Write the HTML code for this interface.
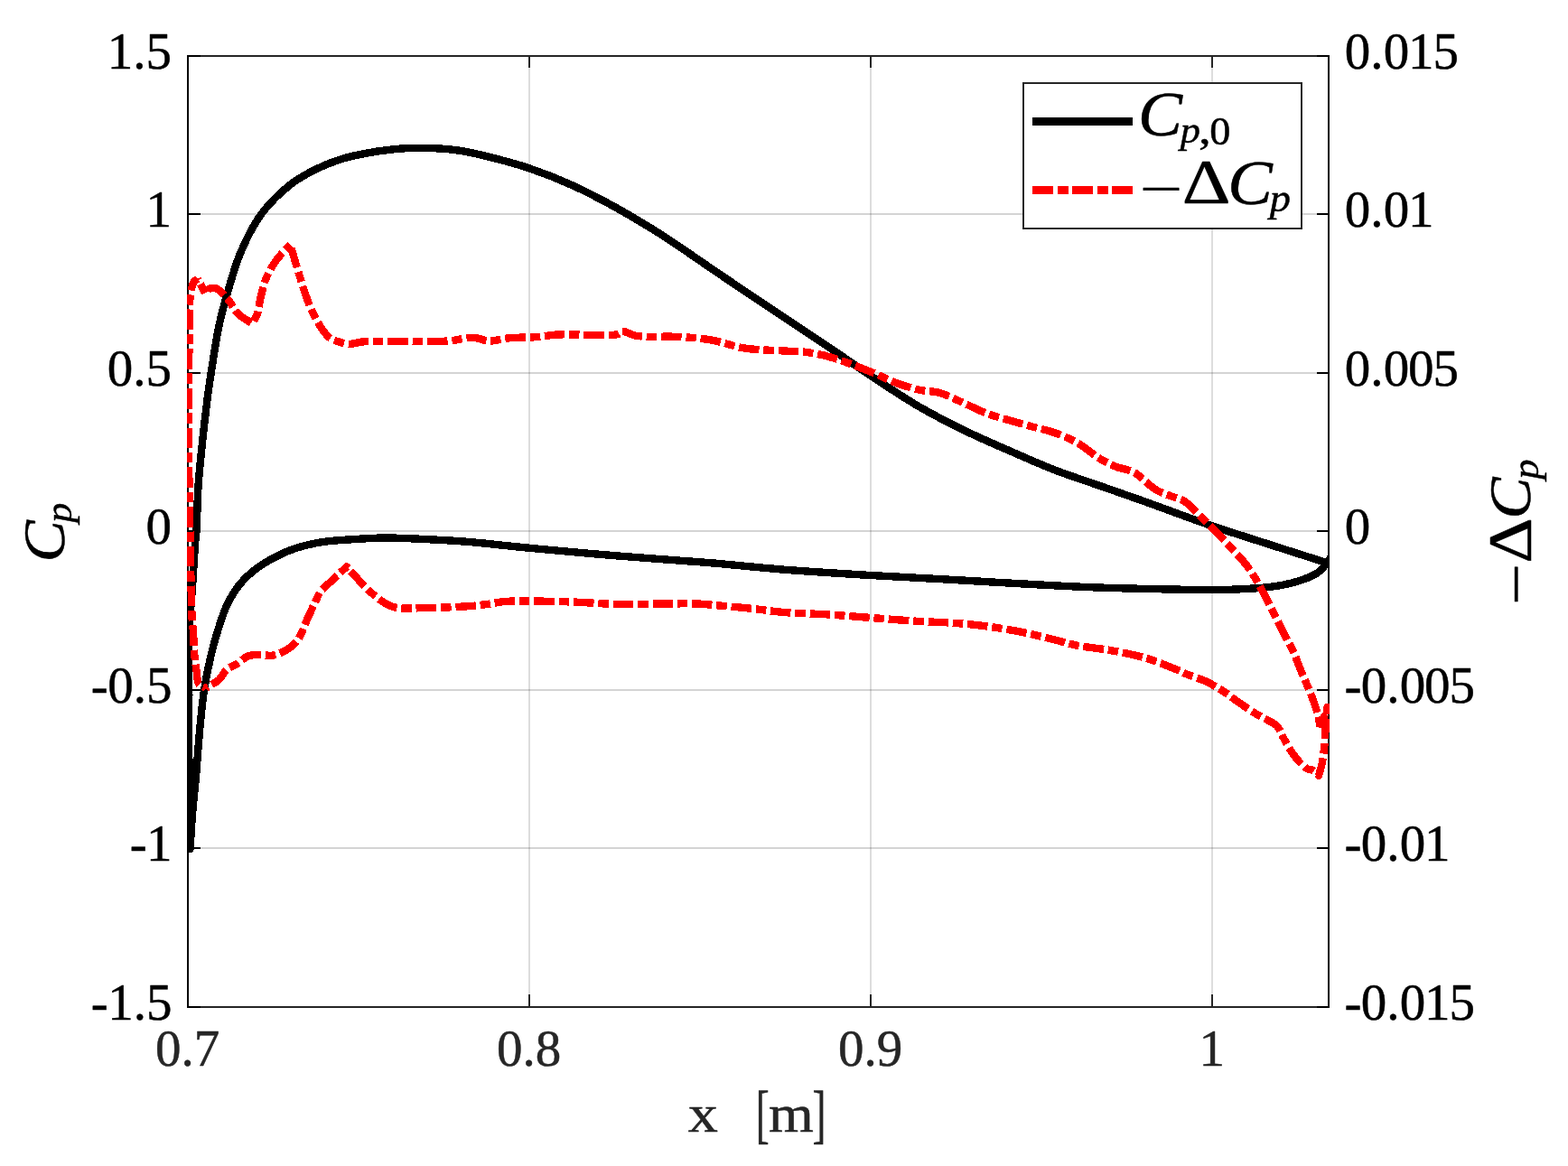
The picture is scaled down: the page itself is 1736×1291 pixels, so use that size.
<!DOCTYPE html>
<html lang="en">
<head>
<meta charset="utf-8">
<title>Cp distribution</title>
<style>
html,body{margin:0;padding:0;background:#fff}
body{width:1736px;height:1291px}
svg{display:block;font-family:"Liberation Serif","DejaVu Serif",serif}
</style>
</head>
<body>
<svg width="1736" height="1291" viewBox="0 0 1736 1291">
<rect width="1736" height="1291" fill="#fff"/>
<defs><clipPath id="ax"><rect x="207" y="61" width="1265" height="1055"/></clipPath></defs>
<g shape-rendering="crispEdges" stroke-width="2" fill="none">
<path stroke="#262626" stroke-opacity="0.155" d="M586 62V1115M964 62V1115M1342 62V1115"/>
<path stroke="#262626" stroke-opacity="0.2" d="M208 237H1471M208 413H1471M208 588H1471M208 764H1471M208 939H1471"/>
<path stroke="#262626" d="M207 1115H1472M207 62H1472M208 1115V1101M586 1115V1101M964 1115V1101M1342 1115V1101M208 62V75M586 62V75M964 62V75M1342 62V75"/>
<path stroke="#000" d="M208 61V1116M1471 61V1116M208 62H222M208 237H222M208 413H222M208 588H222M208 764H222M208 939H222M208 1115H222M1471 62H1458M1471 237H1458M1471 413H1458M1471 588H1458M1471 764H1458M1471 939H1458M1471 1115H1458"/>
</g>
<g clip-path="url(#ax)" fill="none" stroke-width="8.4" stroke-linejoin="round" shape-rendering="crispEdges">
<path stroke="#000" d="M1470.5 623.6C1467.42 622.63 1465.63 622.09 1461.25 620.7C1450.43 617.27 1424.24 608.89 1405 602.7C1384.71 596.17 1361.04 588.81 1342.5 582.5C1327.5 577.39 1314.9 572.68 1302 568C1290.16 563.7 1280.44 559.96 1268 555.5C1252.95 550.1 1234.67 543.83 1218 538C1201.33 532.17 1184.56 526.91 1168 520.5C1151.23 514.01 1134.63 506.52 1118 499.25C1101.29 491.94 1084.55 484.81 1068 476.75C1051.21 468.57 1034.76 460.22 1018 450.5C1000.19 440.17 981.41 427.53 964.25 416.2C948.17 405.58 933.75 395.21 918 384.6C901.69 373.62 883.88 361.98 868 351.4C853.52 341.76 840.4 333.05 826.5 323.7C812.4 314.22 798.74 304.89 784 294.9C768.01 284.06 750.82 271.73 734 261C717.48 250.45 700.82 240.36 684 231C667.48 221.81 650.71 212.87 634 205.3C617.95 198.03 601.13 191.47 585.75 186.25C572.11 181.61 559.49 178.29 546.5 175C533.91 171.81 521.96 168.62 509 166.75C495.35 164.78 479.72 163.86 466.5 163.75C454.94 163.65 444.93 164.37 434 165.5C422.77 166.66 410.42 168.58 400 170.7C390.98 172.54 383.24 174.38 375 177.1C366.57 179.88 358.38 183.14 350 187.3C340.89 191.83 331.63 196.49 322.5 203.6C311.45 212.21 298.81 224.25 289.5 236.8C279.97 249.65 272.72 264.76 266.25 280C259.56 295.77 254.51 315.33 250.3 330C247.04 341.36 244.95 348.93 242.5 360.5C239.33 375.48 236.03 397.89 233.75 412.5C232.1 423.1 231.17 429.46 229.8 440C227.96 454.18 225.73 473.32 224 490C222.27 506.66 220.49 523.49 219.4 540C218.34 556.15 218.27 577.34 217.5 588C217.12 593.34 216.7 594.62 216.25 600C215.32 610.95 214.12 633.33 213 650C211.87 666.67 210.16 681.92 209.5 700C208.72 721.36 209.33 746.67 209.3 770C209.27 793.33 209.15 814.59 209.3 840C209.48 870.37 210.1 906.67 210.5 940C211.37 926.67 212.02 913.24 213.1 900C214.16 886.91 215.9 872.37 216.9 861C217.68 852.18 218.04 846.24 218.75 837.5C219.65 826.45 220.65 812.49 221.9 800C223.15 787.49 224.28 774.96 226.25 762.5C228.23 749.96 231.1 736.2 233.75 725C235.93 715.78 237.88 708.66 240.6 700C243.61 690.4 246.92 679.08 251.25 670C255.19 661.74 259.89 653.98 265 647.5C269.58 641.68 274.48 637.03 280 632.5C285.69 627.83 291.89 623.86 298.75 620C306.34 615.73 314.79 611.5 323.75 608.3C333.43 604.85 343.73 602.29 355 600.4C367.89 598.23 384.41 597.63 397 596.8C407.27 596.12 414.56 595.57 425 595.5C438.23 595.41 454.84 596.3 470 597C485.5 597.72 499.86 598.42 517 599.8C537.76 601.47 560.79 604.38 585.75 606.75C615.58 609.59 651.1 612.8 684 615.5C717.18 618.22 752.13 620.34 784 623C813.23 625.44 839.05 628.42 868 630.7C898.92 633.13 932.6 635.12 964 637C994.22 638.81 1024.41 640.19 1053 641.8C1079.6 643.29 1104.33 644.9 1130 646.3C1155.66 647.7 1181.67 649.21 1207 650.2C1231.65 651.16 1256.61 651.71 1280 652.2C1301.64 652.65 1326.36 653.15 1342.5 653.1C1352.71 653.07 1358.33 653.01 1367.5 652.6C1378.74 652.1 1393.8 651.39 1405 650C1414.21 648.86 1421.76 647.71 1430 645.5C1438.43 643.24 1449.25 639.56 1455 636.5C1458.4 634.69 1460.3 633.05 1462.5 631C1464.61 629.04 1466.25 626.74 1468 624.5C1469.75 622.24 1471.33 619.83 1473 617.5"/>
<path stroke="#f00" stroke-dasharray="22.6 4.8 11.5 4.8" stroke-dashoffset="35.15" d="M228 762C225.33 760.33 221.74 759.59 220 757C217.93 753.9 218.47 748.56 217.75 743.75C216.89 738.05 215.91 731.71 215.3 725C214.6 717.28 214.51 706.9 214 700C213.64 695.11 213.16 693.43 212.8 687.5C211.91 672.95 211.39 639.64 210.8 612C210.08 578.34 209.24 536.28 209 500C208.78 465.72 209.1 429.76 209.3 400C209.47 376.01 209.03 348.55 210 335C210.45 328.8 210.94 325.54 211.8 321.5C212.52 318.11 213.06 314.54 214.5 312.3C215.61 310.58 217.37 309.83 218.8 308.6"/>
<path stroke="#f00" stroke-dasharray="22.6 4.8 11.5 4.8" stroke-dashoffset="20.92" d="M218.8 308.6C220.43 311.73 222.13 315.05 223.7 318C225.11 320.65 226.43 323 227.8 325.5C229.03 323.67 229.73 321.05 231.5 320C233.39 318.88 236.39 318.46 239 319.3C242.84 320.54 247.38 325.73 251.25 330C255.7 334.91 258.99 342.79 263.75 347.5C268.05 351.75 273.32 354.17 278.1 357.5"/>
<path stroke="#f00" stroke-dasharray="22.6 4.8 11.5 4.8" stroke-dashoffset="23.6" d="M278.1 357.5C279.98 355.2 282.19 353.79 283.75 350.6C286.23 345.55 286.94 335.85 288.75 328.75C290.5 321.91 291.76 315.22 294.4 308.75C297.13 302.09 300.7 295.58 305 289.4C309.57 282.83 315.87 276.87 321.3 270.6"/>
<path stroke="#f00" stroke-dasharray="22.6 4.8 11.5 4.8" stroke-dashoffset="39.28" d="M321.3 270.6C322.63 275.23 323.84 279.57 325.3 284.5C326.97 290.12 328.78 296.01 330.8 302.5C333.19 310.16 335.92 319.68 338.75 327.5C341.32 334.59 343.65 340.95 346.9 347.5C350.27 354.29 354.95 362.6 358.75 367.5C361.32 370.81 363.34 373.13 366.25 375C369.17 376.88 372.88 377.74 376.25 378.75C379.55 379.73 382.44 380.89 386.25 381C391.26 381.14 397.61 378.61 403.75 378.1C410.47 377.55 419.42 378.19 425 378.1C428.64 378.04 429.65 377.88 434 377.8C445.46 377.58 479.91 378.67 496.5 377.5C507.55 376.72 515.89 373.44 524 373.75C530.51 374 535.28 377.29 541.5 377.5C548.51 377.74 555.79 375 564 374.25C573.82 373.35 586.99 373.78 596.5 373C603.99 372.39 607.84 371.07 616.5 370.5C632.34 369.45 674.52 372.85 684 370C686.82 369.15 686.8 367.03 689 366.75C692.58 366.29 697.43 370.6 704 371.75C715.69 373.8 738.83 372 754 373C766.72 373.84 777.4 374.69 789 376.75C800.74 378.84 811.57 383.54 824 385.5C837.74 387.67 855.39 387.69 868 388.5C877.5 389.11 884.7 388.93 893 390C901.37 391.08 908.51 392.35 918 395C931.18 398.68 950.73 406.37 964.25 411.75C975.04 416.05 983.65 420.83 993 424.25C1001.53 427.37 1009.82 429.94 1018 431.75C1025.63 433.44 1032.77 432.83 1040.5 435C1049.37 437.49 1059.07 442.83 1068 446.75C1076.55 450.5 1084.56 454.85 1093 458C1101.23 461.07 1109.66 463.08 1118 465.5C1126.32 467.91 1134.66 470.21 1143 472.5C1151.33 474.79 1159.78 476.31 1168 479.25C1176.46 482.27 1184.88 485.88 1193 490.5C1201.57 495.37 1210.25 503.38 1218 508C1224.21 511.7 1229.37 514.28 1235.5 516.75C1241.85 519.31 1248.83 519.46 1255.5 523C1263.66 527.33 1272.55 538.1 1280 542.5C1285.37 545.67 1289.89 546.7 1295 548.75C1300.29 550.87 1306.43 552.04 1311.25 555C1315.99 557.91 1319.63 562.34 1323.75 566.25C1327.97 570.25 1331.98 574.48 1336.25 578.75C1340.72 583.22 1345.37 587.68 1350 592.5C1354.94 597.64 1360.24 603.55 1365 608.75C1369.37 613.52 1373.59 617.59 1377.5 622.5C1381.53 627.57 1385.22 633.15 1388.75 638.75C1392.31 644.4 1395.41 650 1398.75 656.25C1402.49 663.23 1406.24 671.28 1410 678.75C1413.74 686.19 1417.58 693.89 1421.25 701C1424.65 707.6 1428.3 713.61 1431.25 720C1434.11 726.2 1436.21 732.62 1438.75 738.75C1441.21 744.7 1443.79 750.3 1446.25 756.25C1448.79 762.38 1451.58 769.07 1453.75 775C1455.67 780.25 1457.38 784.88 1458.75 790C1460.14 795.21 1460.92 800.67 1462 806"/>
<path stroke="#f00" stroke-dasharray="22.6 4.8 11.5 4.8" stroke-dashoffset="6.7" d="M1462 806C1464.5 798.33 1467 790.67 1469.5 783C1469.25 784.92 1468.99 786.28 1468.75 788.75C1468.31 793.2 1467.92 801.25 1467.5 807.5C1467.08 813.75 1466.87 820.01 1466.25 826.25C1465.62 832.51 1464.91 839.27 1463.75 845C1462.74 849.97 1461.25 854.17 1460 858.75C1457.92 856.83 1455.99 854.25 1453.75 853C1451.79 851.91 1449.63 852.39 1447.5 851.25C1444.66 849.73 1441.53 846.66 1438.75 843.75C1435.66 840.51 1432.79 836.62 1430 832.5C1426.92 827.95 1424.02 822.41 1421.25 817.5C1418.62 812.84 1416.97 807.16 1413.75 803.75C1410.96 800.79 1407.38 799.62 1403.75 797.5C1399.56 795.05 1394.87 792.94 1390 790C1384.16 786.47 1377.36 781.72 1371.25 777.5C1365.28 773.38 1359.79 768.85 1353.75 765C1347.71 761.15 1341.47 757.42 1335 754.4C1328.55 751.39 1320.95 749.34 1315 746.9C1310.1 744.89 1307.22 743.23 1301.75 741C1293.13 737.49 1279.67 731.93 1268 728.5C1255.95 724.96 1243.04 722.55 1230.5 720.25C1218.04 717.97 1204.19 716.96 1193 714.75C1183.77 712.92 1177.18 710.72 1168 708.5C1156.77 705.79 1143.04 702.26 1130.5 699.75C1118.04 697.26 1105.53 695.17 1093 693.5C1080.53 691.84 1068.01 690.67 1055.5 689.75C1043.01 688.83 1031.62 688.82 1018 688C1001.69 687.01 981.49 685.29 964.25 684C948.25 682.8 933.72 681.49 918 680.5C901.66 679.47 883.05 679.26 868 678C855.56 676.96 845.62 675.23 834 674C821.81 672.71 807.74 671.47 796.5 670.5C787.33 669.71 780.68 668.87 771.5 668.5C760.27 668.05 747.4 668.43 734 668.5C718.53 668.58 700.66 669.33 684 669C667.33 668.67 650.52 667.08 634 666.5C617.78 665.93 599.48 665.51 585.75 665.5C575.53 665.49 567.25 665.31 559 666C551.83 666.6 545.45 668.15 539 669C532.98 669.8 528.84 670.43 521.5 671C509.12 671.95 486.86 672.92 471.5 673C458.38 673.06 445.34 675.09 435 671.9C426.16 669.17 420.08 663.73 412.5 657.5C403.04 649.73 393.33 637.5 383.75 627.5C378.83 632.1 373.9 636.71 369 641.3C364.12 645.87 359.27 650.43 354.4 655C350.1 664.17 345.78 673.33 341.5 682.5C337.23 691.66 333.86 703.49 328.75 710C325.04 714.73 320.72 717.38 316.25 720C311.95 722.53 307.28 724.76 302.5 725.6C297.7 726.44 292.27 724.86 287.5 725C283.14 725.13 278.98 724.77 275 726.25C270.61 727.88 266.62 732.42 262.5 735C258.71 737.37 254.52 738.45 251.25 741.25C247.81 744.2 246.11 749.17 242.5 752.5C238.51 756.17 232.83 758.83 228 762"/>
</g>
<rect x="1133" y="92" width="308" height="161" fill="#fff" stroke="#262626" stroke-width="2" shape-rendering="crispEdges"/>
<path stroke="#000" stroke-width="9" shape-rendering="crispEdges" d="M1143 134.5H1254"/>
<path stroke="#f00" stroke-width="9" shape-rendering="crispEdges" stroke-dasharray="23 4.5 12 4.5" d="M1143 210.5H1254"/>
<g stroke="#000" stroke-width="0.5" stroke-linejoin="round">
<text transform="translate(190.55 75.9)" font-size="57" text-anchor="end" dx="-0.55 0.02 0.02">1.5</text>
<text transform="translate(190.55 250.9)" font-size="57" text-anchor="end" dx="-0.55">1</text>
<text transform="translate(190.55 426.9)" font-size="57" text-anchor="end" dx="-0.55 0.02 0.02">0.5</text>
<text transform="translate(190.55 601.9)" font-size="57" text-anchor="end" dx="-0.55">0</text>
<text transform="translate(190.55 777.9)" font-size="57" text-anchor="end" dx="-0.09 -0.64 0.02 0.02">-0.5</text>
<text transform="translate(190.55 952.9)" font-size="57" text-anchor="end" dx="-0.09 -0.64">-1</text>
<text transform="translate(190.55 1128.9)" font-size="57" text-anchor="end" dx="-0.09 -0.64 0.02 0.02">-1.5</text>
<text transform="translate(1489.4 75.9)" font-size="57" dx="-0.55 0.02 0.02 -1.1 -1.1">0.015</text>
<text transform="translate(1489.4 250.9)" font-size="57" dx="-0.55 0.02 0.02 -1.1">0.01</text>
<text transform="translate(1489.4 426.9)" font-size="57" dx="-0.55 0.02 0.02 -1.1 -1.1">0.005</text>
<text transform="translate(1489.4 601.9)" font-size="57" dx="-0.55">0</text>
<text transform="translate(1488.6 777.9)" font-size="57" dx="-0.09 -0.64 0.02 0.02 -1.1 -1.1">-0.005</text>
<text transform="translate(1488.6 952.9)" font-size="57" dx="-0.09 -0.64 0.02 0.02 -1.1">-0.01</text>
<text transform="translate(1488.6 1128.9)" font-size="57" dx="-0.09 -0.64 0.02 0.02 -1.1 -1.1">-0.015</text>
<text transform="translate(208.28 1180.4)" font-size="57" text-anchor="middle" dx="-0.55 0.02 0.02" fill="#262626" stroke="#262626">0.7</text>
<text transform="translate(586.27 1180.4)" font-size="57" text-anchor="middle" dx="-0.55 0.02 0.02" fill="#262626" stroke="#262626">0.8</text>
<text transform="translate(964.27 1180.4)" font-size="57" text-anchor="middle" dx="-0.55 0.02 0.02" fill="#262626" stroke="#262626">0.9</text>
<text transform="translate(1342.28 1180.4)" font-size="57" text-anchor="middle" dx="-0.55" fill="#262626" stroke="#262626">1</text>
<text transform="translate(761.67 1253.1)" fill="#262626" stroke="#262626"><tspan x="0" y="0" font-size="59.04" textLength="33.14" lengthAdjust="spacingAndGlyphs">x</tspan><tspan> </tspan><tspan x="75" y="4.33" font-size="72.31" textLength="14.96" lengthAdjust="spacingAndGlyphs">[</tspan><tspan x="89.24" y="0" font-size="58.79" textLength="49.85" lengthAdjust="spacingAndGlyphs">m</tspan><tspan x="137.71" y="4.33" font-size="72.31" textLength="14.96" lengthAdjust="spacingAndGlyphs">]</tspan></text>
<text transform="translate(70.64 622.62) rotate(-90)"><tspan x="0" y="0" font-size="66.06" font-style="italic" textLength="46.38" lengthAdjust="spacingAndGlyphs">C</tspan><tspan x="43.96" y="8.03" font-size="39.62" font-style="italic" textLength="22.1" lengthAdjust="spacingAndGlyphs">p</tspan></text>
<text transform="translate(1700.03 669.98) rotate(-90)"><tspan x="0" y="0" font-size="64.25" textLength="46.18" lengthAdjust="spacingAndGlyphs">−</tspan><tspan x="46.18" y="-5.83" font-size="67.26" textLength="50.55" lengthAdjust="spacingAndGlyphs">Δ</tspan><tspan x="95.54" y="-5.55" font-size="66.43" font-style="italic" textLength="46" lengthAdjust="spacingAndGlyphs">C</tspan><tspan x="139.2" y="2.91" font-size="40.2" font-style="italic" textLength="22.33" lengthAdjust="spacingAndGlyphs">p</tspan></text>
<text transform="translate(1259.91 150.26)"><tspan x="0" y="0" font-size="69.11" font-style="italic" textLength="49.01" lengthAdjust="spacingAndGlyphs">C</tspan><tspan x="46.8" y="8.09" font-size="41.59" font-style="italic" textLength="22.24" lengthAdjust="spacingAndGlyphs">p</tspan><tspan x="67.19" y="8.87" font-size="45.94" textLength="13.77" lengthAdjust="spacingAndGlyphs">,</tspan><tspan x="79.23" y="9.6" font-size="45.05" textLength="23.12" lengthAdjust="spacingAndGlyphs">0</tspan></text>
<text transform="translate(1261.7 227.97)"><tspan x="0" y="0" font-size="56.22" textLength="47.51" lengthAdjust="spacingAndGlyphs">−</tspan><tspan x="47.01" y="-2.67" font-size="69.38" textLength="53.72" lengthAdjust="spacingAndGlyphs">Δ</tspan><tspan x="97.56" y="-1.71" font-size="69.41" font-style="italic" textLength="49.55" lengthAdjust="spacingAndGlyphs">C</tspan><tspan x="144.01" y="6.1" font-size="44.29" font-style="italic" textLength="23.19" lengthAdjust="spacingAndGlyphs">p</tspan></text>
</g>
</svg>
</body>
</html>
